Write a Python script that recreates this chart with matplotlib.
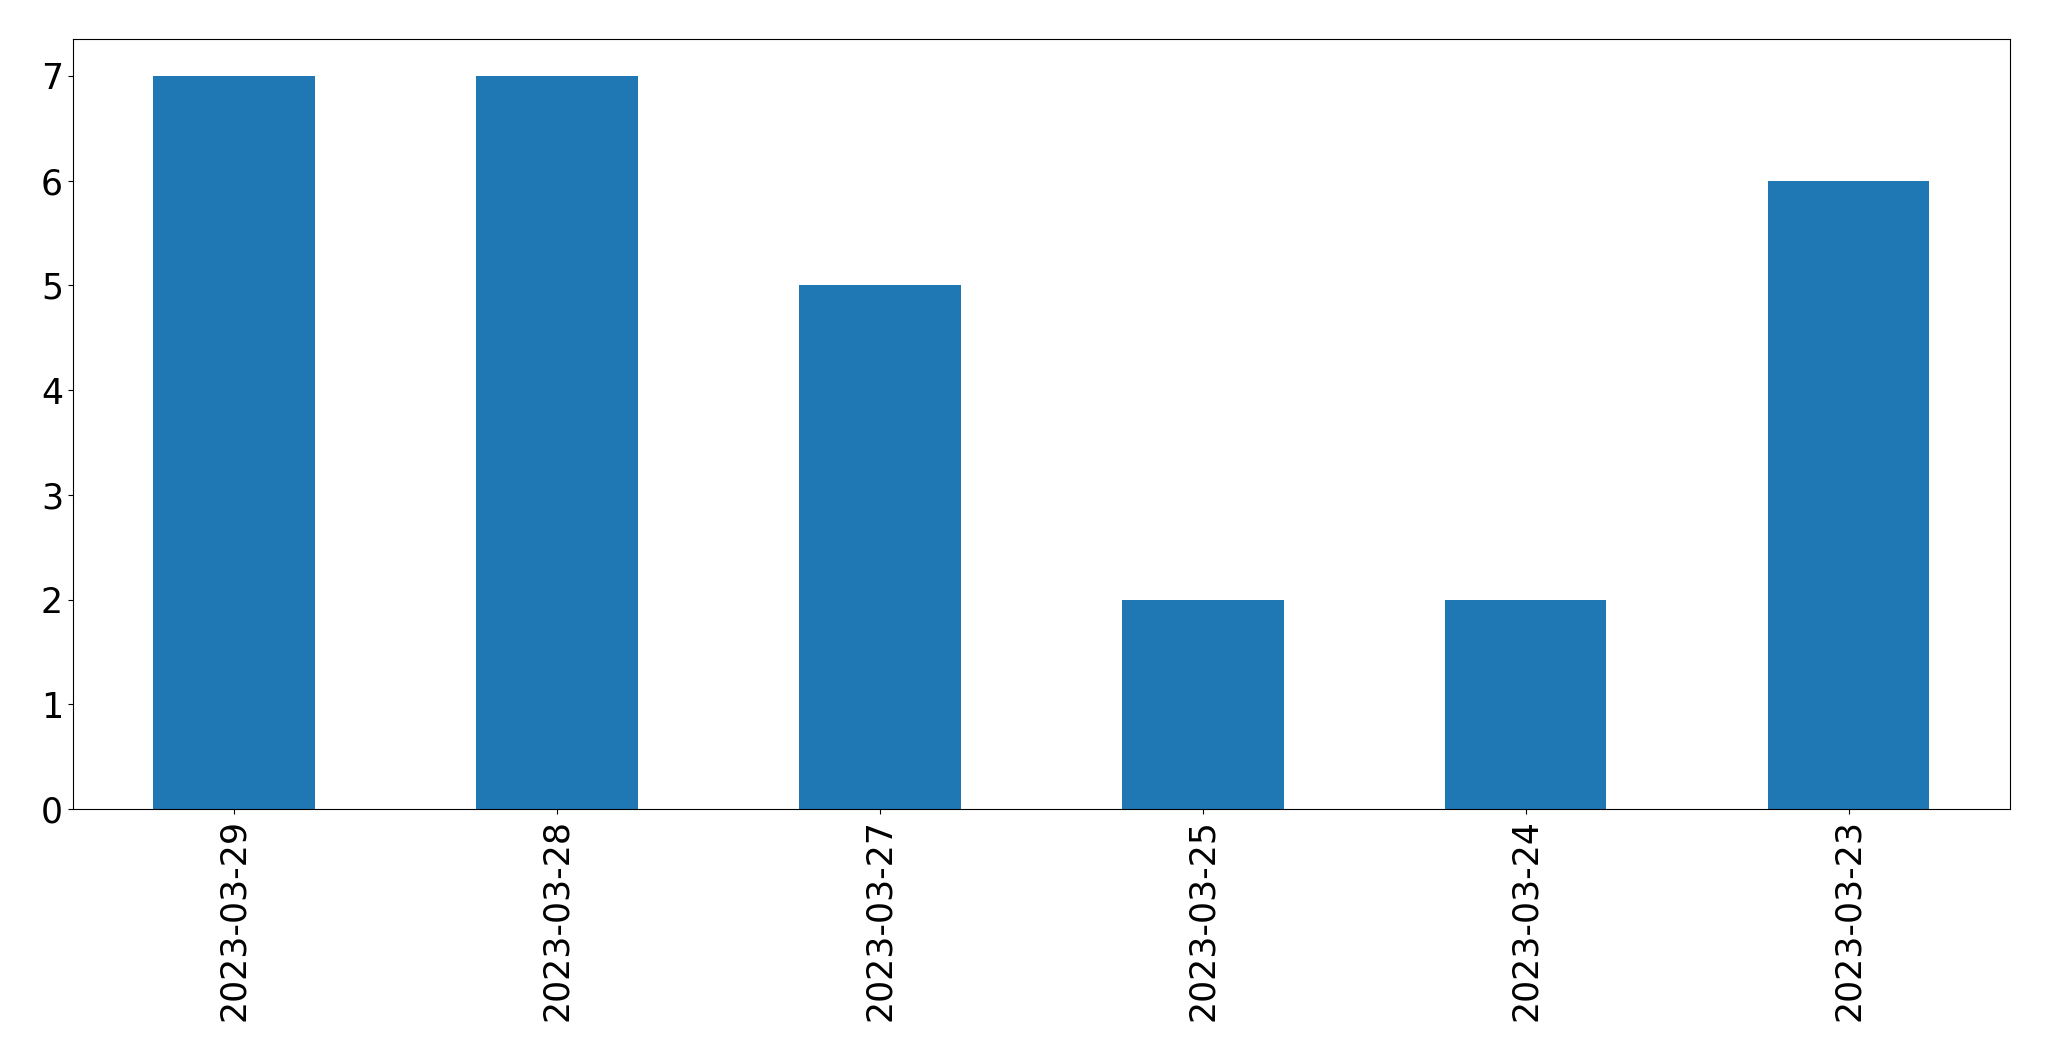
import pandas as pd
from matplotlib import pyplot as plt

dates = ["2023-03-29", "2023-03-28", "2023-03-27", "2023-03-25", "2023-03-24", "2023-03-23"]
counts = [7, 7, 5, 2, 2, 6]

s = pd.Series(counts, index=dates)

fig = plt.figure(figsize=(20.49, 10.61), dpi=100)
ax = fig.add_axes([0.0355, 0.2375, 0.9455, 0.7255])
s.plot(kind="bar", ax=ax, color="#1f77b4")
ax.tick_params(axis="both", labelsize=25)
fig.savefig("out.png", dpi=100)
